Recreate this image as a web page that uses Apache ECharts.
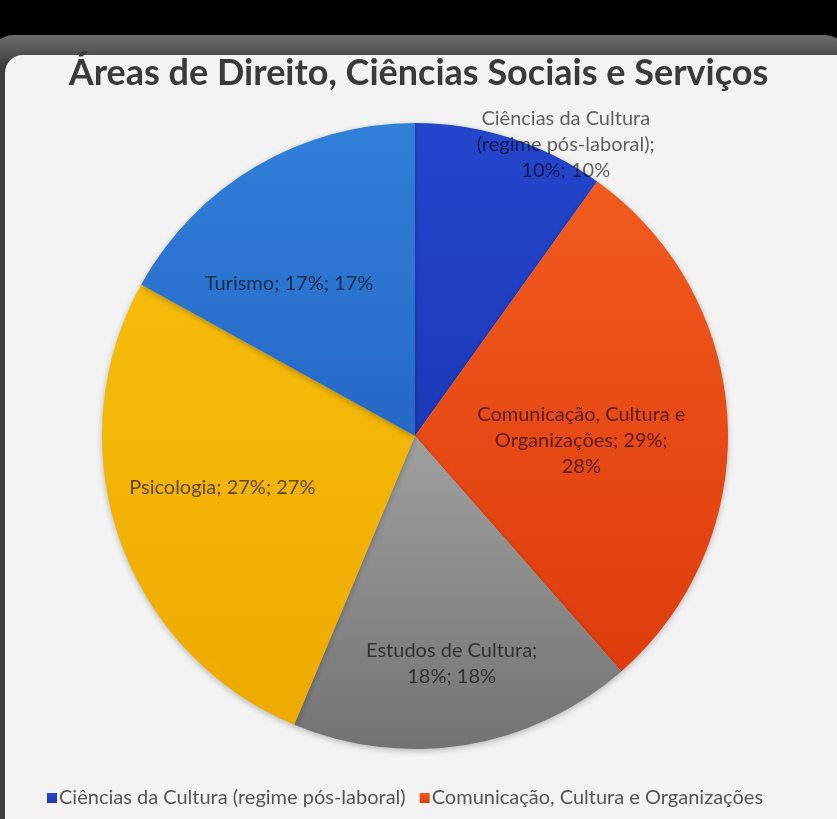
<!DOCTYPE html>
<html>
<head>
<meta charset="utf-8">
<script src="https://cdn.jsdelivr.net/npm/echarts@6/dist/echarts.min.js"></script>
<style>
  html, body { margin: 0; padding: 0; background: #000; }
  #chart { width: 837px; height: 819px; }
</style>
</head>
<body>
<div id="chart"></div>
<script>
const titleText = 'Áreas de Direito, Ciências Sociais e Serviços'

const categories = [
  'Ciências da Cultura (regime pós-laboral)',
  'Comunicação, Cultura e Organizações',
  'Estudos de Cultura',
  'Psicologia',
  'Turismo'
]

// shares; label shows "% of total; rounded value%"
const values = [9.8, 28.4, 17.6, 26.5, 16.8]

const colorsTop = ['#2446cc', '#f25a1e', '#a0a0a0', '#f6bc0a', '#3080da']
const colorsBottom = ['#1c38b8', '#de3c0c', '#737373', '#eeaa00', '#2668c6']

// label tweaks: words per line, nudge from the "inside" spot
const labelWordsPerLine = [[3, 2, 2], [3, 2, 1], [3, 2], null, null]
const labelOffsets = [[102, -140], [7, 12], [11, 70], [-42, -1], [-45, -15]]

const total = values.reduce((a, b) => a + b, 0)

function wrapWords(text, counts) {
  if (!counts) return text
  const words = text.split(' ')
  const lines = []
  let k = 0
  counts.forEach(c => {
    lines.push(words.slice(k, k + c).join(' '))
    k += c
  })
  if (k < words.length) lines.push(words.slice(k).join(' '))
  return lines.join('\n')
}

const chart = echarts.init(document.getElementById('chart'))

const pieData = categories.map((name, i) => ({
  name: name,
  value: values[i],
  itemStyle: {
    color: new echarts.graphic.LinearGradient(0, 0, 0, 1, [
      { offset: 0, color: colorsTop[i] },
      { offset: 1, color: colorsBottom[i] }
    ])
  },
  label: { offset: labelOffsets[i] }
}))

const legendIcon = 'path://M0,0 L10,0 L10,10 L0,10 Z'
const legendText = { fontFamily: 'Lato', fontSize: 20, color: '#555', padding: [0, 0, 0, -3] }

chart.setOption({
  backgroundColor: '#000',
  animation: false,
  graphic: [
    {
      type: 'rect',
      silent: true,
      shape: { x: -12, y: 35, width: 862, height: 820, r: 26 },
      style: {
        fill: new echarts.graphic.LinearGradient(0, 0, 0, 0.04, [
          { offset: 0, color: '#6c6c6c' },
          { offset: 1, color: '#3c3c3c' }
        ])
      }
    },
    {
      type: 'rect',
      silent: true,
      shape: { x: 5, y: 55, width: 850, height: 800, r: 18 },
      style: { fill: '#f3f3f3' }
    }
  ],
  title: {
    text: titleText,
    left: 'center',
    top: 50,
    textStyle: {
      fontFamily: 'Lato',
      fontWeight: 'bold',
      fontSize: 36,
      color: '#3a3a3a'
    }
  },
  color: colorsTop,
  legend: [
    {
      data: categories.slice(0, 2),
      left: 42,
      top: 783,
      icon: legendIcon,
      itemWidth: 10,
      itemHeight: 10,
      itemGap: 14,
      textStyle: legendText
    },
    {
      data: categories.slice(2),
      left: 'center',
      top: 815,
      icon: legendIcon,
      itemWidth: 10,
      itemHeight: 10,
      itemGap: 14,
      textStyle: legendText
    }
  ],
  series: [
    {
      type: 'pie',
      center: [415, 436],
      radius: [0, 313],
      startAngle: 90,
      clockwise: true,
      avoidLabelOverlap: false,
      itemStyle: {
        shadowBlur: 6,
        shadowColor: 'rgba(0,0,0,0.25)',
        shadowOffsetY: 2
      },
      label: {
        show: true,
        position: 'inside',
        fontFamily: 'Lato',
        fontSize: 20,
        lineHeight: 26,
        color: 'rgba(0,0,0,0.62)',
        align: 'center',
        formatter: p => wrapWords(
          p.name + '; ' + Math.round(p.value / total * 100) + '%; ' + Math.round(p.value) + '%',
          labelWordsPerLine[p.dataIndex]
        )
      },
      labelLine: { show: false },
      data: pieData
    }
  ]
})
</script>
</body>
</html>
